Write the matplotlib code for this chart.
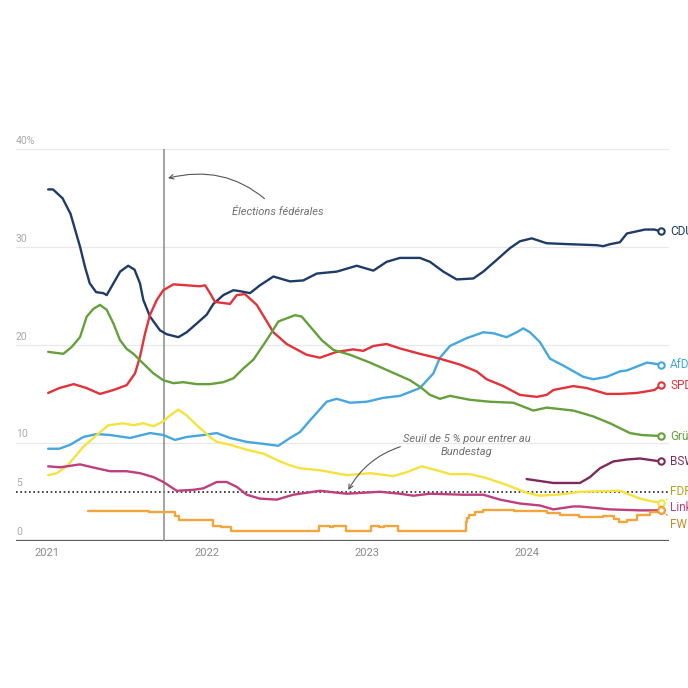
import matplotlib
matplotlib.use("Agg")
import matplotlib.pyplot as plt
import matplotlib.transforms as mtransforms

plt.rcParams['font.family'] = ['Roboto', 'DejaVu Sans']

# ---- data (time in decimal years, values in %) ----
cdu_t = [2021.01, 2021.04, 2021.10, 2021.15, 2021.18, 2021.21, 2021.24, 2021.27, 2021.31, 2021.355,
         2021.376, 2021.418, 2021.46, 2021.51, 2021.55, 2021.584, 2021.605, 2021.647, 2021.709, 2021.751,
         2021.824, 2021.876, 2021.939, 2022.001, 2022.043, 2022.105, 2022.168, 2022.209, 2022.272, 2022.334,
         2022.418, 2022.522, 2022.605, 2022.689, 2022.814, 2022.939, 2023.043, 2023.126, 2023.209, 2023.334,
         2023.397, 2023.480, 2023.564, 2023.668, 2023.730, 2023.814, 2023.897, 2023.959, 2024.033, 2024.126,
         2024.272, 2024.439, 2024.48, 2024.522, 2024.584, 2024.628, 2024.741, 2024.80, 2024.841]
cdu_v = [35.9, 35.9, 35.0, 33.4, 31.7, 30.0, 28.0, 26.3, 25.4, 25.3,
         25.1, 26.3, 27.5, 28.1, 27.7, 26.3, 24.6, 22.9, 21.5, 21.1,
         20.8, 21.3, 22.2, 23.1, 24.2, 25.1, 25.6, 25.5, 25.3, 26.1,
         27.0, 26.5, 26.6, 27.3, 27.5, 28.1, 27.6, 28.5, 28.9, 28.9,
         28.5, 27.5, 26.7, 26.8, 27.5, 28.7, 29.9, 30.6, 30.9, 30.4,
         30.3, 30.2, 30.1, 30.3, 30.5, 31.4, 31.8, 31.8, 31.6]

spd_t = [2021.01, 2021.08, 2021.17, 2021.25, 2021.334, 2021.418, 2021.501, 2021.553, 2021.584, 2021.616,
         2021.647, 2021.689, 2021.730, 2021.793, 2021.959, 2021.991, 2022.022, 2022.053, 2022.147, 2022.189,
         2022.240, 2022.314, 2022.418, 2022.501, 2022.626, 2022.709, 2022.814, 2022.918, 2022.980, 2023.043,
         2023.126, 2023.209, 2023.334, 2023.459, 2023.584, 2023.689, 2023.751, 2023.855, 2023.959, 2024.064,
         2024.126, 2024.168, 2024.293, 2024.376, 2024.501, 2024.584, 2024.691, 2024.80, 2024.841]
spd_v = [15.1, 15.6, 16.0, 15.6, 15.0, 15.4, 15.9, 17.1, 18.8, 21.2,
         23.1, 24.6, 25.6, 26.2, 26.0, 26.1, 25.3, 24.4, 24.2, 25.1,
         25.2, 24.1, 21.3, 20.1, 19.0, 18.7, 19.3, 19.55, 19.4, 19.9,
         20.1, 19.65, 19.1, 18.6, 18.0, 17.3, 16.5, 15.8, 14.9, 14.7,
         14.9, 15.4, 15.8, 15.6, 15.0, 15.0, 15.1, 15.4, 15.9]

gruene_t = [2021.01, 2021.105, 2021.157, 2021.209, 2021.251, 2021.293, 2021.334, 2021.376, 2021.418, 2021.459,
            2021.501, 2021.543, 2021.605, 2021.668, 2021.730, 2021.793, 2021.855, 2021.939, 2022.022, 2022.105,
            2022.168, 2022.230, 2022.293, 2022.376, 2022.449, 2022.553, 2022.595, 2022.647, 2022.720, 2022.793,
            2022.897, 2023.022, 2023.147, 2023.272, 2023.345, 2023.397, 2023.459, 2023.522, 2023.647, 2023.772,
            2023.918, 2024.043, 2024.126, 2024.293, 2024.418, 2024.522, 2024.647, 2024.72, 2024.841]
gruene_v = [19.3, 19.1, 19.8, 20.8, 22.9, 23.7, 24.1, 23.6, 22.2, 20.5,
            19.6, 19.1, 18.1, 17.1, 16.4, 16.1, 16.2, 16.0, 16.0, 16.2,
            16.6, 17.6, 18.5, 20.5, 22.4, 23.05, 22.9, 21.9, 20.5, 19.5,
            19.0, 18.2, 17.3, 16.4, 15.6, 14.9, 14.5, 14.8, 14.4, 14.2,
            14.1, 13.3, 13.6, 13.3, 12.7, 12.0, 11.0, 10.8, 10.7]

afd_t = [2021.01, 2021.08, 2021.147, 2021.230, 2021.314, 2021.397, 2021.522, 2021.647, 2021.730, 2021.803,
         2021.876, 2021.980, 2022.064, 2022.147, 2022.251, 2022.355, 2022.449, 2022.522, 2022.584, 2022.647,
         2022.751, 2022.814, 2022.897, 2023.001, 2023.105, 2023.209, 2023.334, 2023.418, 2023.459, 2023.522,
         2023.626, 2023.730, 2023.793, 2023.876, 2023.939, 2023.980, 2024.022, 2024.084, 2024.147, 2024.230,
         2024.355, 2024.418, 2024.501, 2024.584, 2024.628, 2024.753, 2024.841]
afd_v = [9.4, 9.4, 9.8, 10.6, 10.9, 10.8, 10.5, 11.0, 10.8, 10.3,
         10.6, 10.8, 11.0, 10.5, 10.1, 9.9, 9.7, 10.5, 11.1, 12.3,
         14.2, 14.5, 14.1, 14.2, 14.6, 14.8, 15.6, 17.1, 18.7, 19.9,
         20.7, 21.3, 21.2, 20.8, 21.3, 21.7, 21.3, 20.3, 18.6, 17.9,
         16.75, 16.5, 16.75, 17.3, 17.4, 18.2, 18.0]

fdp_t = [2021.01, 2021.064, 2021.126, 2021.168, 2021.230, 2021.314, 2021.386, 2021.480, 2021.543, 2021.605,
         2021.668, 2021.730, 2021.772, 2021.824, 2021.876, 2021.939, 2022.022, 2022.064, 2022.147, 2022.251,
         2022.355, 2022.459, 2022.522, 2022.584, 2022.709, 2022.876, 2023.022, 2023.168, 2023.251, 2023.345,
         2023.439, 2023.522, 2023.647, 2023.751, 2023.876, 2024.001, 2024.084, 2024.189, 2024.293, 2024.334,
         2024.584, 2024.709, 2024.791, 2024.841]
fdp_v = [6.7, 6.9, 7.6, 8.4, 9.6, 10.8, 11.8, 12.0, 11.8, 12.0,
         11.7, 12.2, 12.8, 13.4, 12.8, 11.8, 10.6, 10.1, 9.8, 9.3,
         8.9, 8.1, 7.7, 7.4, 7.2, 6.7, 6.9, 6.6, 7.0, 7.6,
         7.2, 6.8, 6.8, 6.4, 5.7, 4.9, 4.6, 4.7, 4.9, 5.0,
         5.1, 4.3, 4.0, 3.9]

linke_t = [2021.01, 2021.084, 2021.209, 2021.314, 2021.397, 2021.501, 2021.584, 2021.668, 2021.730, 2021.814,
           2021.918, 2021.980, 2022.064, 2022.126, 2022.189, 2022.251, 2022.334, 2022.439, 2022.543, 2022.584,
           2022.709, 2022.876, 2023.084, 2023.209, 2023.293, 2023.397, 2023.605, 2023.730, 2023.834, 2023.959,
           2024.084, 2024.168, 2024.209, 2024.293, 2024.334, 2024.522, 2024.709, 2024.841]
linke_v = [7.6, 7.5, 7.8, 7.4, 7.1, 7.1, 6.9, 6.5, 6.0, 5.1,
           5.2, 5.35, 6.0, 6.0, 5.5, 4.7, 4.3, 4.2, 4.7, 4.8,
           5.1, 4.8, 5.0, 4.8, 4.6, 4.8, 4.7, 4.7, 4.2, 3.8,
           3.6, 3.2, 3.3, 3.5, 3.5, 3.2, 3.1, 3.1]

bsw_t = [2024.001, 2024.084, 2024.168, 2024.293, 2024.334, 2024.397, 2024.459, 2024.543, 2024.628, 2024.709, 2024.841]
bsw_v = [6.3, 6.1, 5.9, 5.9, 5.9, 6.5, 7.4, 8.1, 8.3, 8.4, 8.1]

fw_t = [2021.26, 2021.64, 2021.80, 2021.83, 2022.04, 2022.09, 2022.15, 2022.70, 2022.77, 2022.79,
        2022.87, 2023.03, 2023.08, 2023.11, 2023.20, 2023.62, 2023.63, 2023.64, 2023.68, 2023.73,
        2023.92, 2024.13, 2024.21, 2024.33, 2024.48, 2024.55, 2024.58, 2024.63, 2024.69, 2024.77, 2024.841]
fw_v = [3.0, 2.9, 2.5, 2.1, 1.5, 1.4, 1.0, 1.5, 1.4, 1.5,
        1.0, 1.5, 1.4, 1.5, 1.0, 1.9, 2.3, 2.6, 2.9, 3.1,
        3.0, 2.8, 2.6, 2.45, 2.5, 2.2, 1.9, 2.1, 2.6, 2.9, 3.1]

parties = ["CDU", "AfD", "SPD", "Grüne", "BSW", "FDP", "Linke", "FW"]
election_t = 2021.734
threshold = 5
year_ticks = [2021, 2022, 2023, 2024]
y_grid = [10, 20, 30, 40]
y_labels = {0: "0", 5: "5", 10: "10", 20: "20", 30: "30", 40: "40%"}

series = {
    "CDU":   (cdu_t, cdu_v, "#1f3b66", "#1f3b66", "line"),
    "AfD":   (afd_t, afd_v, "#46a6e0", "#46a6e0", "line"),
    "SPD":   (spd_t, spd_v, "#e2323a", "#e2323a", "line"),
    "Grüne": (gruene_t, gruene_v, "#65a03b", "#65a03b", "line"),
    "BSW":   (bsw_t, bsw_v, "#7e2b5c", "#7e2b5c", "line"),
    "FDP":   (fdp_t, fdp_v, "#f6e23e", "#b7a21c", "line"),
    "Linke": (linke_t, linke_v, "#bd3f7e", "#bd3f7e", "line"),
    "FW":    (fw_t, fw_v, "#f2a53a", "#c6892b", "steps"),
}
label_offsets = {"FDP": 1.1, "Linke": 0.3, "FW": -1.4}

fig = plt.figure(figsize=(6.88, 6.88), dpi=100)
ax = fig.add_axes([16/688, 1 - 540.7/688, (669-16)/688, (540.7-149.3)/688])
ax.set_xlim(2020.809, 2024.891)
ax.set_ylim(0, 40)

for s in ax.spines.values():
    s.set_visible(False)
ax.set_yticks([])
ax.set_xticks(year_ticks)
ax.set_xticklabels([str(y) for y in year_ticks])
ax.tick_params(axis='x', length=0, pad=5, labelsize=8, labelcolor="#8a8a8a")

for g in y_grid:
    ax.axhline(g, color="#e8e8e8", lw=0.9, zorder=0)
ax.axhline(0, color="#5a5a5a", lw=1.6, zorder=1)
ax.axhline(threshold, color="#222222", lw=1.2, ls=(0, (1, 1.6)), zorder=1)

trans = mtransforms.blended_transform_factory(ax.transAxes, ax.transData)
for val, lab in y_labels.items():
    ax.annotate(lab, xy=(0, val), xycoords=trans, xytext=(0, 2.5), textcoords="offset points",
                ha="left", va="bottom", fontsize=7.5, color="#aaaaaa")

ax.axvline(election_t, color="#8a8a8a", lw=1.1, zorder=1)

for name in parties:
    t, v, col, lcol, kind = series[name]
    ax.plot(t, v, color=col, lw=1.7, drawstyle="steps-post" if kind == "steps" else "default",
            zorder=3, solid_capstyle="round")
    ax.plot([t[-1]], [v[-1]], marker="o", ms=4.6, mfc="white", mec=col, mew=1.5, zorder=4, clip_on=False)
    dy = label_offsets.get(name, 0)
    if dy != 0 and name != "Linke":
        ax.annotate(name, xy=(t[-1], v[-1]), xytext=(6.5, dy * 9.79 * 0.72), textcoords="offset points",
                    ha="left", va="center", fontsize=8.5, color=lcol,
                    arrowprops=dict(arrowstyle="-", color=col, lw=1, ls=(0, (1, 1.2)),
                                    shrinkA=0, shrinkB=3.5))
    else:
        ax.annotate(name, xy=(t[-1], v[-1]), xytext=(6.5, dy * 9.79 * 0.72), textcoords="offset points",
                    ha="left", va="center", fontsize=8.5, color=lcol, annotation_clip=False)

ax.annotate("Élections fédérales", xy=(2021.759, 37.05), xytext=(2022.448, 33.6),
            ha="center", va="center", fontsize=8, style="italic", color="#707070",
            arrowprops=dict(arrowstyle="->", color="#555555", lw=0.8,
                            connectionstyle="arc3,rad=0.3", shrinkA=6, shrinkB=0))
ax.annotate("Seuil de 5 % pour entrer au\nBundestag", xy=(2022.886, 5.18), xytext=(2023.628, 9.77),
            ha="center", va="center", fontsize=8, style="italic", color="#707070", linespacing=1.35,
            arrowprops=dict(arrowstyle="->", color="#555555", lw=0.8,
                            connectionstyle="arc3,rad=0.2", shrinkA=0, shrinkB=0,
                            relpos=(-0.01, 0.45)))

fig.savefig("out.png", dpi=100, facecolor="white")
